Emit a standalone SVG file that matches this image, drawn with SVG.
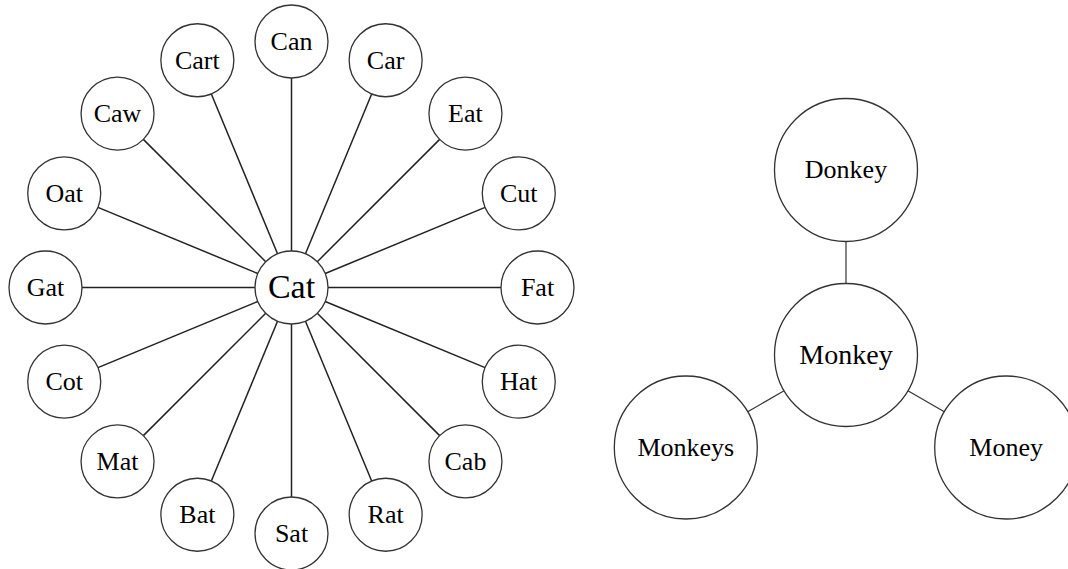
<svg xmlns="http://www.w3.org/2000/svg" width="1068" height="569" viewBox="0 0 1068 569">
<style>
.n circle{fill:#fff;stroke:#333;stroke-width:1.3}
.n text{font-family:"Liberation Serif","Times New Roman",serif;font-size:26px;fill:#000;text-anchor:middle}
.n text.big{font-size:34px}
.n text.mid{font-size:28px}
#edges line{stroke:#222;stroke-width:1.5}
#edges line.thin{stroke:#333;stroke-width:1.2}
</style>
<rect width="1068" height="569" fill="#fff"/>
<g id="edges">
<line x1="328" y1="287.5" x2="501" y2="287.5"/>
<line x1="325.22" y1="273.53" x2="485.05" y2="207.33"/>
<line x1="317.31" y1="261.69" x2="439.64" y2="139.36"/>
<line x1="305.47" y1="253.78" x2="371.67" y2="93.95"/>
<line x1="291.5" y1="251" x2="291.5" y2="78"/>
<line x1="277.53" y1="253.78" x2="211.33" y2="93.95"/>
<line x1="265.69" y1="261.69" x2="143.36" y2="139.36"/>
<line x1="257.78" y1="273.53" x2="97.95" y2="207.33"/>
<line x1="255" y1="287.5" x2="82" y2="287.5"/>
<line x1="257.78" y1="301.47" x2="97.95" y2="367.67"/>
<line x1="265.69" y1="313.31" x2="143.36" y2="435.64"/>
<line x1="277.53" y1="321.22" x2="211.33" y2="481.05"/>
<line x1="291.5" y1="324" x2="291.5" y2="497"/>
<line x1="305.47" y1="321.22" x2="371.67" y2="481.05"/>
<line x1="317.31" y1="313.31" x2="439.64" y2="435.64"/>
<line x1="325.22" y1="301.47" x2="485.05" y2="367.67"/>
<line class="thin" x1="846" y1="283.5" x2="846" y2="241.5"/>
<line class="thin" x1="784.08" y1="390.75" x2="747.71" y2="411.75"/>
<line class="thin" x1="907.92" y1="390.75" x2="944.29" y2="411.75"/>
</g>
<g id="cat" class="n"><circle cx="291.5" cy="287.5" r="36.5"/><text class="big" x="291.5" y="298">Cat</text></g>
<g id="fat" class="n"><circle cx="537.5" cy="287.5" r="36.5"/><text x="537.5" y="296">Fat</text></g>
<g id="cut" class="n"><circle cx="518.77" cy="193.36" r="36.5"/><text x="518.77" y="202">Cut</text></g>
<g id="eat" class="n"><circle cx="465.45" cy="113.55" r="36.5"/><text x="465.45" y="122">Eat</text></g>
<g id="car" class="n"><circle cx="385.64" cy="60.23" r="36.5"/><text x="385.64" y="69">Car</text></g>
<g id="can" class="n"><circle cx="291.5" cy="41.5" r="36.5"/><text x="291.5" y="50">Can</text></g>
<g id="cart" class="n"><circle cx="197.36" cy="60.23" r="36.5"/><text x="197.36" y="69">Cart</text></g>
<g id="caw" class="n"><circle cx="117.55" cy="113.55" r="36.5"/><text x="117.55" y="122">Caw</text></g>
<g id="oat" class="n"><circle cx="64.23" cy="193.36" r="36.5"/><text x="64.23" y="202">Oat</text></g>
<g id="gat" class="n"><circle cx="45.5" cy="287.5" r="36.5"/><text x="45.5" y="296">Gat</text></g>
<g id="cot" class="n"><circle cx="64.23" cy="381.64" r="36.5"/><text x="64.23" y="390">Cot</text></g>
<g id="mat" class="n"><circle cx="117.55" cy="461.45" r="36.5"/><text x="117.55" y="470">Mat</text></g>
<g id="bat" class="n"><circle cx="197.36" cy="514.77" r="36.5"/><text x="197.36" y="523">Bat</text></g>
<g id="sat" class="n"><circle cx="291.5" cy="533.5" r="36.5"/><text x="291.5" y="542">Sat</text></g>
<g id="rat" class="n"><circle cx="385.64" cy="514.77" r="36.5"/><text x="385.64" y="523">Rat</text></g>
<g id="cab" class="n"><circle cx="465.45" cy="461.45" r="36.5"/><text x="465.45" y="470">Cab</text></g>
<g id="hat" class="n"><circle cx="518.77" cy="381.64" r="36.5"/><text x="518.77" y="390">Hat</text></g>
<g id="monkey" class="n"><circle cx="846" cy="355" r="71.5"/><text class="mid" x="846" y="364">Monkey</text></g>
<g id="donkey" class="n"><circle cx="846" cy="170" r="71.5"/><text x="846" y="178">Donkey</text></g>
<g id="monkeys" class="n"><circle cx="685.8" cy="447.5" r="71.5"/><text x="685.8" y="456">Monkeys</text></g>
<g id="money" class="n"><circle cx="1006.2" cy="447.5" r="71.5"/><text x="1006.2" y="456">Money</text></g>
</svg>
